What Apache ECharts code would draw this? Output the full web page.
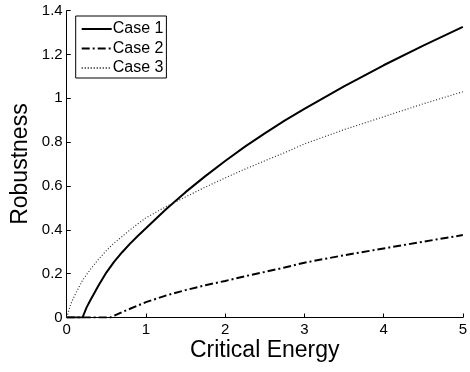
<!DOCTYPE html>
<html>
<head>
<meta charset="utf-8">
<script src="https://cdn.jsdelivr.net/npm/echarts@6/dist/echarts.min.js"></script>
<style>
html,body{margin:0;padding:0;background:#fff;}
#chart{width:470px;height:372px;}
</style>
</head>
<body>
<div id="chart"></div>
<script>
var xs = [0,0.05,0.1,0.15,0.2,0.25,0.3,0.4,0.5,0.55,0.6,0.7,0.8,0.9,1,1.25,1.5,1.75,2,2.25,2.5,2.75,3,3.5,4,4.5,5];
var case1 = [0,0,0,0,0,0.045,0.08,0.145,0.205,0.23,0.255,0.298,0.337,0.373,0.407,0.493,0.572,0.645,0.714,0.78,0.84,0.898,0.952,1.055,1.151,1.241,1.326];
var case2 = [0,0,0,0,0,0,0,0,0,0,0.008,0.025,0.04,0.055,0.07,0.1,0.125,0.147,0.167,0.188,0.208,0.228,0.25,0.284,0.315,0.346,0.376];
var case3 = [0,0.06,0.1,0.135,0.17,0.195,0.22,0.265,0.305,0.323,0.34,0.37,0.4,0.428,0.455,0.505,0.55,0.595,0.637,0.677,0.715,0.752,0.792,0.857,0.916,0.975,1.03];
var seriesNames = ['Case 1','Case 2','Case 3'];
var xTitle = 'Critical Energy';
var yTitle = 'Robustness';

function pairs(ys){ return xs.map(function(x,i){ return [x, ys[i]]; }); }

var font = 'Liberation Sans, Arial, Helvetica, sans-serif';
var chart = echarts.init(document.getElementById('chart'), null, {renderer:'canvas'});
chart.setOption({
  animation:false,
  backgroundColor:'#fff',
  grid:{left:66.7, right:0.7, top:10.7, bottom:54.5, containLabel:false},
  legend:{
    orient:'vertical', left:75.7, top:16,
    padding:[5,3,2,5], itemGap:3.5, itemWidth:30, itemHeight:14,
    borderColor:'#000', borderWidth:1, backgroundColor:'#fff',
    itemStyle:{opacity:0, borderWidth:0},
    textStyle:{fontFamily:font, fontSize:16, color:'#000', lineHeight:16, padding:[0,0,0,-4]},
    data:seriesNames
  },
  xAxis:{
    type:'value', min:0, max:5, interval:1,
    name:xTitle, nameLocation:'middle', nameGap:22, nameMoveOverlap:false,
    nameTextStyle:{fontFamily:font, fontSize:23, color:'#000'},
    axisLine:{show:true, lineStyle:{color:'#000', width:1}},
    axisTick:{show:true, inside:true, length:4, lineStyle:{color:'#000'}},
    axisLabel:{fontFamily:font, fontSize:15, color:'#000', margin:5},
    splitLine:{show:false}
  },
  yAxis:{
    type:'value', min:0, max:1.4, interval:0.2,
    name:yTitle, nameLocation:'middle', nameGap:35, nameMoveOverlap:false,
    nameTextStyle:{fontFamily:font, fontSize:23, color:'#000'},
    axisLine:{show:true, lineStyle:{color:'#000', width:1}},
    axisTick:{show:true, inside:true, length:4, lineStyle:{color:'#000'}},
    axisLabel:{fontFamily:font, fontSize:15, color:'#000', margin:4},
    splitLine:{show:false}
  },
  series:[
    {name:seriesNames[0], type:'line', data:pairs(case1), symbol:'none', showSymbol:false,
     lineStyle:{color:'#000', width:2, type:'solid'}, itemStyle:{color:'#000'}},
    {name:seriesNames[1], type:'line', data:pairs(case2), symbol:'none', showSymbol:false,
     lineStyle:{color:'#000', width:2, type:[8,3,2,3]}, itemStyle:{color:'#000'}},
    {name:seriesNames[2], type:'line', data:pairs(case3), symbol:'none', showSymbol:false,
     lineStyle:{color:'#333', width:1.2, type:[1,2]}, itemStyle:{color:'#333'}}
  ]
});
</script>
</body>
</html>
